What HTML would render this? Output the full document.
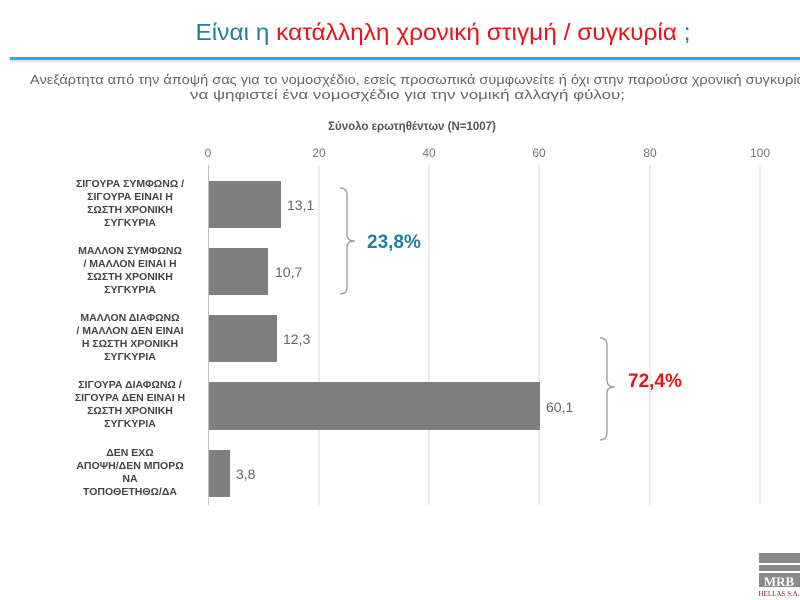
<!DOCTYPE html>
<html><head><meta charset="utf-8"><style>
body{margin:0;background:#fff;}
svg{display:block;font-family:"Liberation Sans","DejaVu Sans",sans-serif;}
</style></head><body>
<svg width="800" height="600" viewBox="0 0 800 600" xmlns="http://www.w3.org/2000/svg">
<rect width="800" height="600" fill="#fff"/>
<text x="443" y="40" font-size="23" text-anchor="middle" textLength="495" lengthAdjust="spacingAndGlyphs"><tspan fill="#1f7f9e">Είναι η </tspan><tspan fill="#e8141c">κατάλληλη χρονική στιγμή / συγκυρία</tspan><tspan fill="#1f7f9e"> ;</tspan></text>
<rect x="10" y="57" width="790" height="3" fill="#3aa6d3"/>
<rect x="10" y="60" width="790" height="2" fill="#d8e8ef"/>
<text x="30" y="84" font-size="12.5" fill="#666" textLength="775" lengthAdjust="spacingAndGlyphs">Ανεξάρτητα από την άποψή σας για το νομοσχέδιο, εσείς προσωπικά συμφωνείτε ή όχι στην παρούσα χρονική συγκυρία</text>
<text x="190" y="99" font-size="12.5" fill="#666" textLength="435" lengthAdjust="spacingAndGlyphs">να ψηφιστεί ένα νομοσχέδιο για την νομική αλλαγή φύλου;</text>
<text x="412" y="130" font-size="11.5" fill="#555" font-weight="bold" text-anchor="middle">Σύνολο ερωτηθέντων (N=1007)</text>
<g stroke="#d9d9d9" stroke-width="1">
<line x1="319" y1="165" x2="319" y2="505"/><line x1="429" y1="165" x2="429" y2="505"/><line x1="539" y1="165" x2="539" y2="505"/><line x1="650" y1="165" x2="650" y2="505"/><line x1="760" y1="165" x2="760" y2="505"/>
</g>
<line x1="208.5" y1="165" x2="208.5" y2="505" stroke="#bfbfbf"/>
<g font-size="12" fill="#777" text-anchor="middle">
<text x="208" y="157">0</text><text x="319" y="157">20</text><text x="429" y="157">40</text><text x="539" y="157">60</text><text x="650" y="157">80</text><text x="760" y="157">100</text>
</g>
<g fill="#7f7f7f">
<rect x="209" y="181" width="72" height="47"/>
<rect x="209" y="248" width="59" height="47"/>
<rect x="209" y="315" width="68" height="47"/>
<rect x="209" y="382" width="331" height="48"/>
<rect x="209" y="450" width="21" height="47"/>
</g>
<g font-size="14" fill="#666">
<text x="287" y="210">13,1</text><text x="275" y="277">10,7</text><text x="283" y="344">12,3</text><text x="546" y="412">60,1</text><text x="236" y="479">3,8</text>
</g>
<g font-size="10.5" fill="#444" text-anchor="middle" font-weight="bold">
<text x="130" y="187">ΣΙΓΟΥΡΑ ΣΥΜΦΩΝΩ /</text><text x="130" y="200">ΣΙΓΟΥΡΑ ΕΙΝΑΙ Η</text><text x="130" y="213">ΣΩΣΤΗ ΧΡΟΝΙΚΗ</text><text x="130" y="226">ΣΥΓΚΥΡΙΑ</text>
<text x="130" y="254">ΜΑΛΛΟΝ ΣΥΜΦΩΝΩ</text><text x="130" y="267">/ ΜΑΛΛΟΝ ΕΙΝΑΙ Η</text><text x="130" y="280">ΣΩΣΤΗ ΧΡΟΝΙΚΗ</text><text x="130" y="293">ΣΥΓΚΥΡΙΑ</text>
<text x="130" y="321">ΜΑΛΛΟΝ ΔΙΑΦΩΝΩ</text><text x="130" y="334">/ ΜΑΛΛΟΝ ΔΕΝ ΕΙΝΑΙ</text><text x="130" y="347">Η ΣΩΣΤΗ ΧΡΟΝΙΚΗ</text><text x="130" y="360">ΣΥΓΚΥΡΙΑ</text>
<text x="130" y="388">ΣΙΓΟΥΡΑ ΔΙΑΦΩΝΩ /</text><text x="130" y="401">ΣΙΓΟΥΡΑ ΔΕΝ ΕΙΝΑΙ Η</text><text x="130" y="414">ΣΩΣΤΗ ΧΡΟΝΙΚΗ</text><text x="130" y="427">ΣΥΓΚΥΡΙΑ</text>
<text x="130" y="456">ΔΕΝ ΕΧΩ</text><text x="130" y="469">ΑΠΟΨΗ/ΔΕΝ ΜΠΟΡΩ</text><text x="130" y="482">ΝΑ</text><text x="130" y="495">ΤΟΠΟΘΕΤΗΘΩ/ΔΑ</text>
</g>
<path d="M340 188 Q347 188 347 195 L347 235 Q347 241 355 241 Q347 241 347 247 L347 287 Q347 294 340 294" fill="none" stroke="#999" stroke-width="1.3"/>
<text x="367" y="248" font-size="19" font-weight="bold" fill="#1f7f9e">23,8%</text>
<path d="M600 338 Q607 338 607 345 L607 380 Q607 387 615 387 Q607 387 607 393 L607 432 Q607 440 600 440" fill="none" stroke="#999" stroke-width="1.3"/>
<text x="628" y="387" font-size="19" font-weight="bold" fill="#e8141c">72,4%</text>
<rect x="759" y="553" width="41" height="10" fill="#8a8a8a"/>
<rect x="759" y="565" width="41" height="6" fill="#8a8a8a"/>
<rect x="759" y="573" width="41" height="14" fill="#8a8a8a"/>
<text x="779" y="586" font-size="13" font-weight="bold" fill="#fff" text-anchor="middle" font-family="Liberation Serif,serif">MRB</text>
<text x="779" y="596" font-size="7" fill="#8a2030" text-anchor="middle" font-family="Liberation Serif,serif">HELLAS S.A.</text>
</svg>
</body></html>
